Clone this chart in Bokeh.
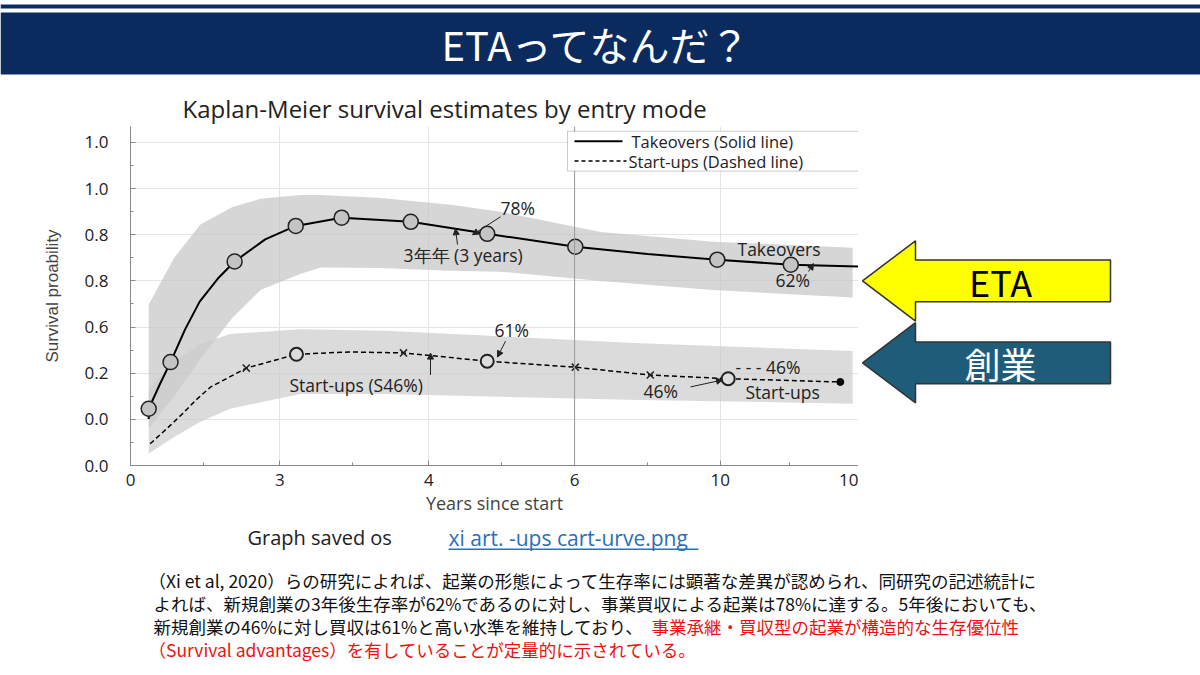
from bokeh.plotting import figure
from bokeh.layouts import column, row
from bokeh.models import Label, BoxAnnotation, Arrow, NormalHead, FixedTicker, Span
from bokeh.core.properties import value
from bokeh.embed import file_html
from bokeh.resources import INLINE

# ---- data (chart units: x 0..10, y tick index 0..7)
x_ticks = [0, 2.05, 4.1, 6.1, 8.1, 10]
x_labels = ["0", "3", "4", "6", "10", "10"]
y_ticks = [0, 1, 2, 3, 4, 5, 6, 7]
y_labels = ["0.0", "0.0", "0.2", "0.6", "0.8", "0.8", "1.0", "1.0"]

take_x = [0.25, 0.25, 0.40, 0.55, 0.75, 0.95, 1.20, 1.43, 1.85, 2.27, 2.90, 3.85, 4.90, 6.11, 7.10, 8.06, 9.07, 10.0]
take_y = [1.01, 1.23, 1.75, 2.24, 2.95, 3.55, 4.05, 4.42, 4.90, 5.19, 5.37, 5.28, 5.02, 4.74, 4.58, 4.46, 4.35, 4.31]
take_pts_x = [0.25, 0.55, 1.43, 2.27, 2.90, 3.85, 4.90, 6.11, 8.06, 9.07]
take_pts_y = [1.23, 2.24, 4.42, 5.19, 5.37, 5.28, 5.02, 4.74, 4.46, 4.35]

start_x = [0.27, 0.50, 0.70, 0.90, 1.10, 1.59, 2.28, 3.00, 3.75, 4.90, 6.11, 7.14, 8.21, 9.75]
start_y = [0.47, 0.80, 1.10, 1.42, 1.70, 2.11, 2.41, 2.46, 2.44, 2.26, 2.13, 1.96, 1.88, 1.81]
start_o_x = [2.28, 4.90, 8.21]
start_o_y = [2.41, 2.26, 1.88]
start_x_x = [1.59, 3.75, 6.11, 7.14]
start_x_y = [2.11, 2.44, 2.13, 1.96]

tband_x = [0.25, 0.60, 0.96, 1.40, 1.79, 2.33, 2.61, 3.40, 4.40, 5.08, 6.46, 8.00, 9.92]
tband_hi = [3.49, 4.50, 5.22, 5.60, 5.78, 5.86, 5.86, 5.80, 5.65, 5.50, 5.06, 4.85, 4.72]
tband_lo = [0.80, 1.50, 2.31, 3.20, 3.81, 4.15, 4.29, 4.28, 4.22, 4.20, 4.00, 3.80, 3.64]

sband_x = [0.25, 0.60, 0.96, 1.37, 2.33, 3.50, 5.08, 7.00, 9.92]
sband_hi = [1.66, 2.25, 2.63, 2.85, 2.95, 2.92, 2.80, 2.65, 2.48]
sband_lo = [0.26, 0.62, 0.95, 1.23, 1.55, 1.55, 1.49, 1.42, 1.34]

FONT = "Open Sans"
JP = "Noto Sans CJK JP"


def deco(width, height):
    f = figure(width=width, height=height, x_range=(0, width), y_range=(height, 0),
               output_backend="svg", toolbar_location=None, min_border=0,
               x_axis_location=None, y_axis_location=None)
    f.grid.visible = False
    f.outline_line_color = None
    return f


# ---- header (page y 0..78)
head = deco(1200, 78)
head.quad(left=[0, 0], right=[1200, 1200], top=[4, 12], bottom=[8, 74],
          fill_color="#0b2a5e", line_color=None)
head.text(x=[596], y=[43], text=["ETAってなんだ？"], text_font=value(JP), text_font_size="40px",
          text_color="white", text_align="center", text_baseline="middle")

# ---- chart (page y 78..517, x 0..858), frame x 130..858, y 126..467
YTOP = 7 + 16 / 46.4
p = figure(width=858, height=439, x_range=(0, 10), y_range=(0, YTOP),
           output_backend="svg", toolbar_location=None,
           min_border_left=130, min_border_right=0, min_border_top=48, min_border_bottom=50,
           title="Kaplan-Meier survival estimates by entry mode")
p.title.text_font = FONT
p.title.text_font_size = "24px"
p.title.text_font_style = "normal"
p.title.text_color = "#222222"
p.title.align = "left"
p.title.offset = 52
p.title.standoff = 4
p.outline_line_color = None

p.xaxis.ticker = FixedTicker(ticks=x_ticks, minor_ticks=[1.0, 3.05, 5.1, 7.1, 9.05])
p.xaxis.major_label_overrides = {t: l for t, l in zip(x_ticks, x_labels)}
p.yaxis.ticker = FixedTicker(ticks=y_ticks, minor_ticks=[i + 0.5 for i in range(7)])
p.yaxis.major_label_overrides = {t: l for t, l in zip(y_ticks, y_labels)}
for ax in (p.xaxis[0], p.yaxis[0]):
    ax.axis_line_color = "#888888"
    ax.major_tick_line_color = "#888888"
    ax.minor_tick_line_color = "#888888"
    ax.major_label_text_font = FONT
    ax.major_label_text_font_size = "17px"
    ax.major_label_text_color = "#222222"
    ax.major_tick_in = 5
    ax.major_tick_out = 0
    ax.minor_tick_in = 3
    ax.minor_tick_out = 0
p.yaxis.major_label_standoff = 22
p.xaxis.major_label_standoff = 8
p.xaxis.axis_label = "Years since start"
p.xaxis.axis_label_text_font = FONT
p.xaxis.axis_label_text_font_style = "normal"
p.xaxis.axis_label_text_font_size = "18px"
p.xaxis.axis_label_standoff = 2
p.yaxis.axis_label = "Survival proability"
p.yaxis.axis_label_text_font = "Liberation Sans"
p.yaxis.axis_label_text_font_style = "normal"
p.yaxis.axis_label_text_font_size = "17px"
p.yaxis.axis_label_standoff = 20
p.xgrid.grid_line_color = "#e4e4e4"
p.ygrid.grid_line_color = "#e4e4e4"
p.add_layout(Span(location=6.1, dimension="height", line_color="#999999", line_width=1))

# bands
p.varea(x=tband_x, y1=tband_lo, y2=tband_hi, fill_color="#c4c4c4", fill_alpha=0.7)
p.varea(x=sband_x, y1=sband_lo, y2=sband_hi, fill_color="#cccccc", fill_alpha=0.7)

# curves
p.line(take_x, take_y, line_color="black", line_width=2)
p.scatter(take_pts_x, take_pts_y, size=15, fill_color="#c4c4c4", line_color="#222222", line_width=1.5)
p.line(start_x, start_y, line_color="black", line_width=1.5, line_dash="5 3")
p.scatter(start_o_x, start_o_y, size=13, fill_color="#dddddd", line_color="#222222", line_width=2)
p.scatter(start_x_x, start_x_y, marker="x", size=10, line_color="#222222", line_width=1.5)
p.scatter([start_x[-1]], [start_y[-1]], size=7, fill_color="black", line_color="black")


def cx(px):
    return (px - 130) / 72.8


def cy(py):
    return (467 - py) / 46.4


def chart_text(x, y, t, size="17.5px"):
    p.add_layout(Label(x=cx(x), y=cy(y), text=t, text_font=FONT, text_font_size=size,
                       text_color="#222222", text_baseline="middle", text_align="left"))


def arrow(x0, y0, x1, y1):
    p.add_layout(Arrow(x_start=cx(x0), y_start=cy(y0), x_end=cx(x1), y_end=cy(y1),
                       line_width=1, line_color="#222222",
                       end=NormalHead(size=6, fill_color="#222222", line_color="#222222")))


chart_text(500, 208, "78%")
arrow(500, 217, 472, 235)
chart_text(403, 255, "3年年 (3 years)")
arrow(457, 245, 455, 229)
chart_text(737, 249, "Takeovers")
chart_text(775, 281, "62%")
arrow(808, 272, 813, 264)
chart_text(494, 331, "61%")
arrow(505, 342, 497, 358)
chart_text(289, 386, "Start-ups (S46%)")
arrow(430, 376, 430, 354)
chart_text(735, 368, "- - - 46%")
chart_text(643, 392, "46%")
arrow(690, 388, 722, 381)
chart_text(745, 393, "Start-ups")

# legend box (drawn by hand)
p.add_layout(BoxAnnotation(left=cx(567), right=cx(858), bottom=cy(171), top=cy(131),
                           fill_color="white", fill_alpha=1, line_color="#555555", line_width=1))
p.add_layout(Arrow(x_start=cx(574), y_start=cy(141), x_end=cx(622), y_end=cy(141),
                   line_width=2, line_color="black", end=None))
p.add_layout(Arrow(x_start=cx(574), y_start=cy(161), x_end=cx(626), y_end=cy(161),
                   line_width=1.5, line_color="black", line_dash="4 3", end=None))
p.scatter([cx(600)], [cy(161)], size=7, fill_color="black", line_color="black")
chart_text(631, 141, "Takeovers (Solid line)", "16.5px")
chart_text(628, 161, "Start-ups (Dashed line)", "16.5px")

# ---- right side arrows (page x 858..1200, y 78..517)
side = deco(342, 439)


def big_arrow(py, color, label, tcolor):
    xs = [862, 915, 915, 1110, 1110, 915, 915]
    ys = [py, py - 52, py - 27, py - 27, py + 27, py + 27, py + 52]
    side.patch([v - 858 for v in xs], [v - 78 for v in ys], fill_color=color,
               line_color="#333333", line_width=1.5)
    side.text(x=[1000 - 858], y=[py - 78], text=[label], text_font=value(JP), text_font_size="36px",
              text_color=tcolor, text_align="center", text_baseline="middle")


big_arrow(278, "#ffff00", "ETA", "black")
big_arrow(384, "#1f5c7a", "創業", "white")

# ---- bottom text (page y 517..675)
TOP = 517
body = deco(1200, 158)


def btext(x, y, t, color="#111111", font=JP, size="17.5px"):
    body.text(x=[x], y=[y - TOP], text=[t], text_font=value(font), text_font_size=size,
              text_color=color, text_baseline="middle")


btext(247, 537, "Graph saved os", "#222222", FONT, "20px")
btext(448, 537, "xi art. -ups cart-urve.png", "#2a6fb8", FONT, "21px")
body.quad(left=[448], right=[698], top=[548 - TOP], bottom=[549.5 - TOP],
          fill_color="#2a6fb8", line_color=None)

btext(148, 580, "（Xi et al, 2020）らの研究によれば、起業の形態によって生存率には顕著な差異が認められ、同研究の記述統計に")
btext(153, 603, "よれば、新規創業の3年後生存率が62%であるのに対し、事業買収による起業は78%に達する。5年後においても、")
btext(153, 626, "新規創業の46%に対し買収は61%と高い水準を維持しており、")
btext(651, 626, "事業承継・買収型の起業が構造的な生存優位性", "#ee1111")
btext(148, 649, "（Survival advantages）を有していることが定量的に示されている。", "#ee1111")

layout = column(head, row(p, side), body)
open("out.html", "w").write(file_html(layout, INLINE))
